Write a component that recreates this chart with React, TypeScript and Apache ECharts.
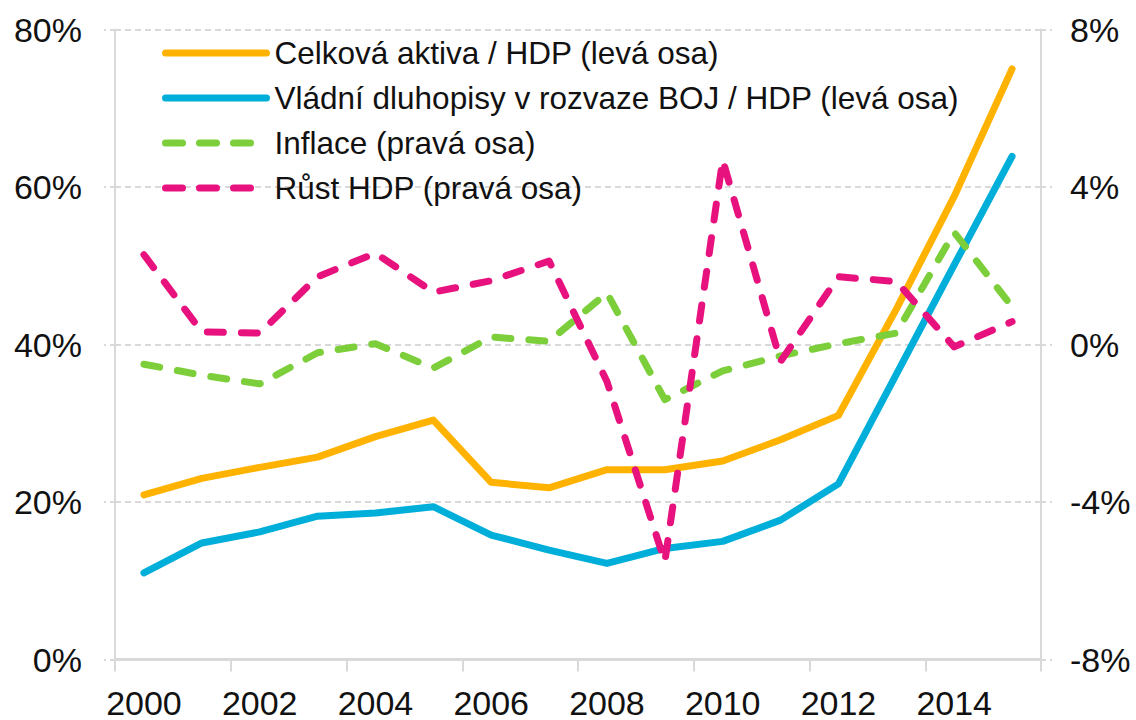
import React, { useEffect, useRef } from "react";
import * as echarts from "echarts";

const years = ["2000","2001","2002","2003","2004","2005","2006","2007","2008","2009","2010","2011","2012","2013","2014","2015"];
const assetsToGdp = [20.9, 23.0, 24.4, 25.7, 28.3, 30.4, 22.5, 21.8, 24.1, 24.1, 25.2, 27.9, 31.0, 44.5, 58.8, 75.0];
const bondsToGdp = [11.0, 14.8, 16.2, 18.2, 18.6, 19.4, 15.8, 13.9, 12.2, 14.1, 15.0, 17.7, 22.3, 36.2, 50.1, 63.9];
const inflation = [-0.5, -0.78, -1.0, -0.21, 0.02, -0.6, 0.19, 0.08, 1.31, -1.4, -0.67, -0.29, 0.02, 0.29, 2.85, 0.96];
const gdpGrowth = [2.28, 0.32, 0.29, 1.72, 2.32, 1.33, 1.62, 2.12, -0.94, -5.52, 4.69, -0.43, 1.72, 1.6, -0.06, 0.58];

const seriesNames = [
  "Celková aktiva / HDP (levá osa)",
  "Vládní dluhopisy v rozvaze BOJ / HDP (levá osa)",
  "Inflace (pravá osa)",
  "Růst HDP (pravá osa)",
];

const FONT = "'Liberation Sans', Arial, sans-serif";
const GRID_COLOR = "#d9d9d9";

export default function App() {
  const ref = useRef<HTMLDivElement>(null);
  useEffect(() => {
    if (!ref.current) return;
    const chart = echarts.init(ref.current, null, { renderer: "svg" });
    const dashed = [16, 18];
    const legendDash = [17, 17];
    chart.setOption({
      animation: false,
      backgroundColor: "#ffffff",
      textStyle: { fontFamily: FONT },
      grid: { left: 115, right: 95, top: 29.5, bottom: 60.5 },
      legend: {
        orient: "vertical",
        left: 162,
        top: 37,
        padding: 0,
        itemWidth: 101,
        itemHeight: 32,
        itemGap: 13,
        itemStyle: { opacity: 0 },
        lineStyle: { width: 7, cap: "round" },
        textStyle: { fontFamily: FONT, fontSize: 31.5, color: "#111", lineHeight: 32, padding: [0, 0, 0, 3] },
        data: [
          { name: seriesNames[0] },
          { name: seriesNames[1] },
          { name: seriesNames[2], lineStyle: { type: legendDash } },
          { name: seriesNames[3], lineStyle: { type: legendDash } },
        ],
      },
      xAxis: {
        type: "category",
        data: years,
        boundaryGap: true,
        axisLine: { lineStyle: { color: GRID_COLOR, width: 3 } },
        axisTick: { show: true, interval: 1, length: 12, lineStyle: { color: GRID_COLOR, width: 2 } },
        axisLabel: { interval: 1, fontSize: 34, lineHeight: 30, color: "#111", fontFamily: FONT, margin: 28 },
        splitLine: { show: false },
      },
      yAxis: [
        {
          type: "value",
          min: 0,
          max: 80,
          interval: 20,
          position: "left",
          axisLine: { show: true, lineStyle: { color: GRID_COLOR, width: 2 } },
          axisTick: { show: true, length: 11, lineStyle: { color: GRID_COLOR, width: 2, type: [5, 4] } },
          axisLabel: { formatter: "{value}%", fontSize: 34, color: "#111", fontFamily: FONT, margin: 33 },
          splitLine: { show: true, lineStyle: { color: GRID_COLOR, width: 2, type: [6, 4] } },
        },
        {
          type: "value",
          min: -8,
          max: 8,
          interval: 4,
          position: "right",
          axisLine: { show: true, lineStyle: { color: GRID_COLOR, width: 2 } },
          axisTick: { show: true, length: 11, lineStyle: { color: GRID_COLOR, width: 2, type: [5, 4] } },
          axisLabel: { formatter: "{value}%", fontSize: 34, color: "#111", fontFamily: FONT, margin: 29 },
          splitLine: { show: false },
        },
      ],
      series: [
        {
          name: seriesNames[0],
          type: "line",
          yAxisIndex: 0,
          data: assetsToGdp,
          symbol: "none",
          color: "#FFB300",
          lineStyle: { color: "#FFB300", width: 7, cap: "round", join: "round" },
          z: 3,
        },
        {
          name: seriesNames[1],
          type: "line",
          yAxisIndex: 0,
          data: bondsToGdp,
          symbol: "none",
          color: "#00AEDA",
          lineStyle: { color: "#00AEDA", width: 7, cap: "round", join: "round" },
          z: 3,
        },
        {
          name: seriesNames[2],
          type: "line",
          yAxisIndex: 1,
          data: inflation,
          symbol: "none",
          color: "#7CCF3A",
          lineStyle: { color: "#7CCF3A", width: 7, type: dashed, cap: "round", join: "round" },
          z: 4,
        },
        {
          name: seriesNames[3],
          type: "line",
          yAxisIndex: 1,
          data: gdpGrowth,
          symbol: "none",
          color: "#E8127F",
          lineStyle: { color: "#E8127F", width: 7, type: dashed, cap: "round", join: "round" },
          z: 5,
        },
      ],
    });
    return () => chart.dispose();
  }, []);
  return <div ref={ref} style={{ width: 1136, height: 720, position: "absolute", left: 0, top: 0 }} />;
}
